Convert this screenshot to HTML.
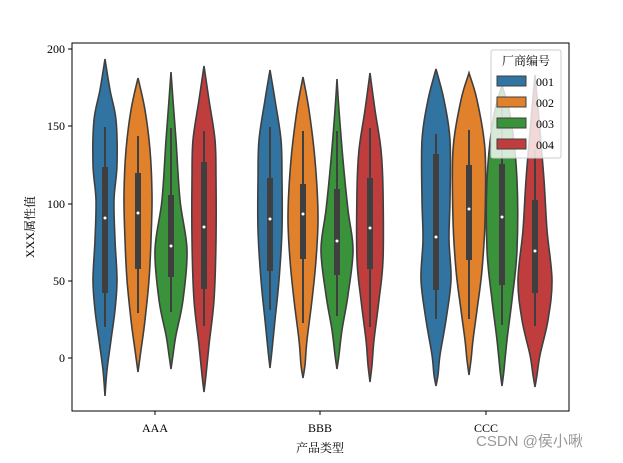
<!DOCTYPE html>
<html><head><meta charset="utf-8"><style>
body{margin:0;background:#fff;}
svg text{font-family:"Liberation Serif","Noto Serif CJK SC",serif;}
</style></head><body>
<svg id="s" width="623" height="458" xmlns="http://www.w3.org/2000/svg">
<rect width="623" height="458" fill="#fff"/>
<g id="v"></g>
<rect x="72" y="43" width="497" height="368" fill="none" stroke="#000" stroke-width="1"/>
<g stroke="#000" stroke-width="1">
<line x1="68" y1="49" x2="72" y2="49"/><line x1="68" y1="126" x2="72" y2="126"/><line x1="68" y1="204" x2="72" y2="204"/><line x1="68" y1="281" x2="72" y2="281"/><line x1="68" y1="358" x2="72" y2="358"/>
<line x1="155" y1="411" x2="155" y2="415"/><line x1="320" y1="411" x2="320" y2="415"/><line x1="486" y1="411" x2="486" y2="415"/>
</g>
<g font-size="12" text-anchor="end" fill="#000">
<text x="65" y="53">200</text><text x="65" y="130">150</text><text x="65" y="208">100</text><text x="65" y="285">50</text><text x="65" y="362">0</text>
</g>
<g font-size="12" text-anchor="middle" fill="#000">
<text x="155" y="432">AAA</text><text x="320" y="432">BBB</text><text x="486" y="432">CCC</text>
<text x="320" y="452">产品类型</text>
<text transform="translate(34,227) rotate(-90)">XXX属性值</text>
</g>
<g>
<rect x="491" y="50" width="70" height="108" rx="2" fill="#fff" fill-opacity="0.8" stroke="#ccc"/>
<text x="526" y="65" font-size="12" text-anchor="middle">厂商编号</text>
<rect x="497" y="76" width="29" height="10" fill="#3274a1" stroke="#3f3f3f"/>
<rect x="497" y="97" width="29" height="10" fill="#e1812c" stroke="#3f3f3f"/>
<rect x="497" y="118" width="29" height="10" fill="#3a923a" stroke="#3f3f3f"/>
<rect x="497" y="139" width="29" height="10" fill="#c03d3e" stroke="#3f3f3f"/>
<g font-size="12"><text x="536" y="86">001</text><text x="536" y="107">002</text><text x="536" y="128">003</text><text x="536" y="149">004</text></g>
</g>
<text x="476" y="446" font-size="15" fill="#999" style="font-family:'Liberation Sans','Noto Sans CJK SC',sans-serif">CSDN @侯小啾</text>
</svg>
<script>
var C=["#3274a1","#e1812c","#3a923a","#c03d3e"];
var V=[
[105,0,59,396,[[90,5],[120,11],[165,12],[200,9],[240,10],[280,12],[310,10],[340,6],[370,2]],167,293,127,327,218],
[138,1,78,372,[[110,7],[150,12],[195,14],[240,13],[280,11],[320,7],[350,3]],173,269,136,313,213],
[171,2,72,369,[[100,2],[140,5],[200,9],[250,16],[300,12],[335,5],[355,2]],195,277,128,312,246],
[204,3,66,392,[[100,5],[140,11],[180,12],[240,12],[300,10],[345,5],[375,2]],162,289,131,326,227],
[270,0,70,368,[[100,5],[140,11],[180,12],[230,12],[280,9],[320,5],[350,2]],178,271,127,310,219],
[303,1,77,378,[[110,6],[160,12],[215,15],[260,13],[300,9],[340,4],[365,2]],184,259,131,323,214],
[337,2,79,369,[[110,2],[160,6],[210,11],[250,16],[295,11],[330,5],[355,2]],189,275,131,316,241],
[370,3,73,382,[[110,5],[150,11],[190,13],[260,13],[300,9],[340,4],[365,2]],178,269,128,327,228],
[436,0,69,386,[[100,8],[140,14],[200,14],[240,13],[280,15],[320,10],[355,4],[375,2]],154,290,134,319,237],
[469,1,73,375,[[100,8],[150,16],[220,16],[270,13],[310,8],[340,4],[360,2]],165,260,130,319,209],
[502,2,85,386,[[120,9],[180,15],[250,15],[300,10],[340,5],[370,2]],164,285,100,325,217],
[535,3,75,387,[[120,4],[180,9],[230,12],[280,17],[320,13],[355,5],[375,2]],200,293,150,326,251]
];
function cr(p){var d="M"+p[0][0]+","+p[0][1];for(var i=0;i<p.length-1;i++){var a=p[i-1]||p[i],b=p[i],c=p[i+1],e=p[i+2]||c;
d+=" C"+(b[0]+(c[0]-a[0])/6).toFixed(1)+","+(b[1]+(c[1]-a[1])/6).toFixed(1)+" "+(c[0]-(e[0]-b[0])/6).toFixed(1)+","+(c[1]-(e[1]-b[1])/6).toFixed(1)+" "+c[0]+","+c[1];}return d;}
var g=document.getElementById("v"),h="";
V.forEach(function(v){var x=v[0],pts=[[x,v[2]]];v[4].forEach(function(q){pts.push([x+q[1],q[0]]);});pts.push([x,v[3]]);
var l=[];for(var i=v[4].length-1;i>=0;i--)l.push([x-v[4][i][1],v[4][i][0]]);l.push([x,v[2]]);
var d=cr(pts)+" "+cr([[x,v[3]]].concat(l)).slice(1).replace(/^[^C]*/,"");
h+='<path d="'+d+'Z" fill="'+C[v[1]]+'" stroke="#3f3f3f" stroke-width="1.6"/>';
h+='<line x1="'+x+'" y1="'+v[7]+'" x2="'+x+'" y2="'+v[8]+'" stroke="#3f3f3f" stroke-width="2"/>';
h+='<rect x="'+(x-3)+'" y="'+v[5]+'" width="6" height="'+(v[6]-v[5])+'" fill="#3f3f3f"/>';
h+='<circle cx="'+x+'" cy="'+v[9]+'" r="1.5" fill="#fff"/>';});
g.innerHTML=h;
</script>
</body></html>
